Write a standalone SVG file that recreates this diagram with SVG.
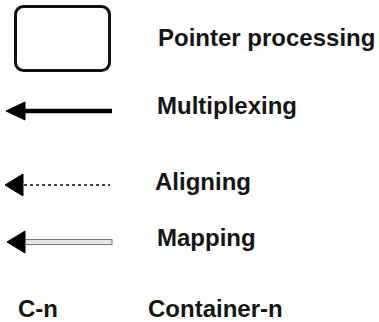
<svg xmlns="http://www.w3.org/2000/svg" width="379" height="322" viewBox="0 0 379 322">
  <style>
    .label { font-family: "Liberation Sans", Arial, sans-serif; font-weight: bold; font-size: 24px; fill: #151515; }
    .head { fill: #000; stroke: #000; stroke-width: 1; stroke-linejoin: round; }
  </style>
  <rect width="379" height="322" fill="#fff"/>

  <!-- legend symbols -->
  <g id="pointer-box">
    <rect x="15.5" y="6.5" width="94" height="64" rx="8" ry="8" fill="#fff" stroke="#111" stroke-width="3"/>
  </g>
  <g id="connectors">
    <!-- multiplexing: heavy solid arrow -->
    <g id="multiplexing-arrow">
      <line x1="22" y1="111" x2="112" y2="111" stroke="#000" stroke-width="4.5"/>
      <polygon class="head" points="6,111 25,102 25,120"/>
    </g>
    <!-- aligning: dotted arrow -->
    <g id="aligning-arrow">
      <line x1="24" y1="185" x2="110" y2="185" stroke="#444" stroke-width="2" stroke-dasharray="3,3"/>
      <polygon class="head" points="5,185 23,174 23,196"/>
    </g>
    <!-- mapping: hollow light arrow -->
    <g id="mapping-arrow">
      <rect x="24" y="239.5" width="88" height="5" fill="#e6e6e6" stroke="#777" stroke-width="1"/>
      <polygon class="head" points="7,242 25,231 25,253"/>
    </g>
  </g>

  <!-- legend texts -->
  <g id="pointer-label"><text class="label" x="158" y="46">Pointer processing</text></g>
  <g id="multiplexing-label"><text class="label" x="157" y="114">Multiplexing</text></g>
  <g id="aligning-label"><text class="label" x="155" y="190">Aligning</text></g>
  <g id="mapping-label"><text class="label" x="157" y="246">Mapping</text></g>
  <g id="cn-key"><text class="label" x="18" y="317">C-n</text></g>
  <g id="container-label"><text class="label" x="148" y="317">Container-n</text></g>
</svg>
